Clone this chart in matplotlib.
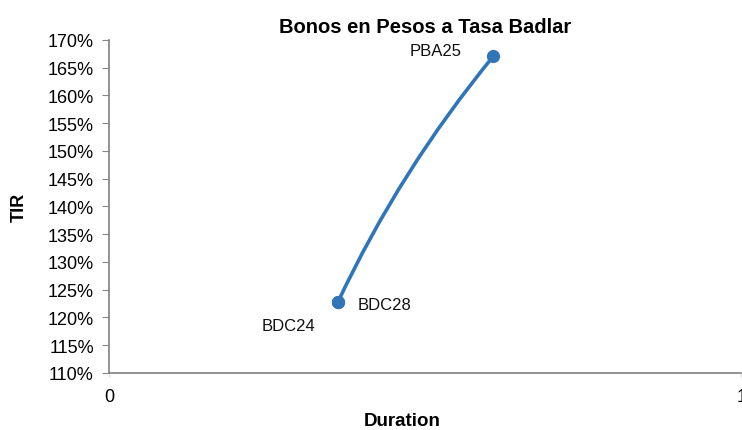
import numpy as np
import matplotlib
matplotlib.use("Agg")
import matplotlib.pyplot as plt
from matplotlib.path import Path
from matplotlib.patches import PathPatch
from matplotlib.transforms import IdentityTransform

# Data
bonds = ["BDC24", "BDC28", "PBA25"]
duration = [0.362, 0.362, 0.608]
tir = [122.8, 122.8, 167.1]
yticks = [110, 115, 120, 125, 130, 135, 140, 145, 150, 155, 160, 165, 170]
xticks = [0, 1]
bend = 0.062  # smoothing bend of the connecting curve (fraction of chord)

plt.rcParams['font.family'] = ['Liberation Sans', 'DejaVu Sans']
color = '#2F75B8'

fig = plt.figure(figsize=(7.42, 4.31), dpi=100)
ax = fig.add_axes([0.147, 0.1323, 0.852, 0.7726])
ax.set_xlim(0, 1)
ax.set_ylim(110, 170)

# Smoothed connecting line (quadratic Bezier between distinct points)
fig.canvas.draw()
pts = ax.transData.transform(np.column_stack([duration, tir]))
uniq = [pts[0]]
for p in pts[1:]:
    if np.hypot(*(p - uniq[-1])) > 1e-6:
        uniq.append(p)
verts, codes = [tuple(uniq[0])], [Path.MOVETO]
for a, b in zip(uniq[:-1], uniq[1:]):
    chord = b - a
    L = np.hypot(*chord)
    perp = np.array([-chord[1], chord[0]]) / L
    mid = (a + b) / 2
    if perp[0] > 0:
        perp = -perp
    ctrl = mid + perp * bend * L
    verts += [tuple(ctrl), tuple(b)]
    codes += [Path.CURVE3, Path.CURVE3]
patch = PathPatch(Path(verts, codes), transform=IdentityTransform(), facecolor='none',
                  edgecolor=color, lw=2.6, capstyle='round', zorder=3)
ax.add_artist(patch)
ax.plot(duration, tir, linestyle='none', marker='o', ms=8.5, color=color, zorder=4, clip_on=False)

# Labels
offsets = {"BDC24": (-76, -24), "BDC28": (20, -3), "PBA25": (-84, 6)}
for name, x, y in zip(bonds, duration, tir):
    dx, dy = offsets[name]
    ax.annotate(name, (x, y), xytext=(dx, dy), textcoords='offset pixels',
                fontsize=12, ha='left', va='center', color='#111111')

ax.set_yticks(yticks)
ax.set_yticklabels([f"{v}%" for v in yticks], fontsize=13)
ax.set_xticks(xticks)
ax.set_xticklabels([str(v) for v in xticks], fontsize=13)
ax.tick_params(axis='y', length=5, color='#888888', pad=6)
ax.tick_params(axis='x', length=3, color='#dddddd', pad=8)
for s in ['top', 'right']:
    ax.spines[s].set_visible(False)
for s in ['left', 'bottom']:
    ax.spines[s].set_color('#808080')
    ax.spines[s].set_linewidth(1.2)

ax.set_title("Bonos en Pesos a Tasa Badlar", fontsize=14.5, fontweight='bold', pad=6, x=0.5)
ax.set_ylabel("TIR", fontsize=13, fontweight='bold', labelpad=14)
ax.set_xlabel("Duration", fontsize=13.5, fontweight='bold', labelpad=5, x=0.464)

fig.savefig("out.png", dpi=100)
